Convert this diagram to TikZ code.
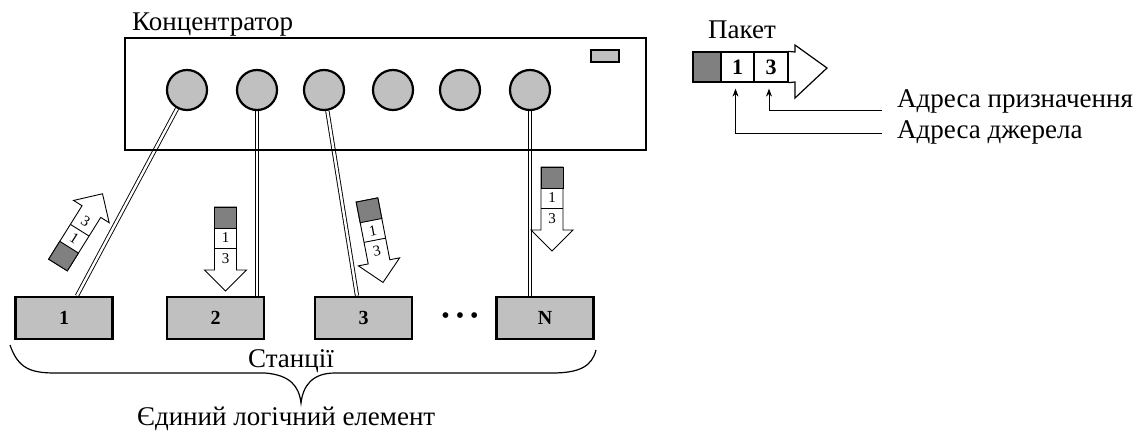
\documentclass[tikz,border=0pt]{standalone}
\usepackage{fontspec}
\setmainfont{Liberation Serif}
\newfontfamily\tnr{Liberation Serif}
\usetikzlibrary{calc,arrows.meta}
\definecolor{lgray}{HTML}{C0C0C0}
\definecolor{dgray}{HTML}{808080}
\pgfdeclarelayer{bg}
\pgfsetlayers{bg,main}
\tikzset{
  txt/.style={inner sep=0pt, font=\tnr\fontsize{27}{30}\selectfont},
  hubbox/.style={draw, line width=2.6pt, minimum width=521pt, minimum height=112pt, inner sep=0pt},
  port/.style={circle, draw, line width=2.2pt, fill=lgray, minimum size=40pt, inner sep=0pt},
  led/.style={draw, line width=2pt, fill=lgray, minimum width=28pt, minimum height=12pt, inner sep=0pt},
  stationbox/.style={draw, line width=2.6pt, fill=lgray, minimum width=97pt, minimum height=42pt, inner sep=0pt, font=\tnr\fontsize{20}{24}\selectfont\bfseries},
  cable/.style={double=white, double distance=2.4pt, line width=0.9pt},
  pktline/.style={line width=0.9pt},
  pktnum/.style={inner sep=0pt, font=\tnr\fontsize{15}{16}\selectfont},
  lcell/.style={draw, line width=1.2pt, minimum height=30pt, inner sep=0pt, font=\tnr\fontsize{22}{24}\selectfont\bfseries},
  callout/.style={line width=1pt, -{Stealth[length=8pt,width=6pt]}},
  bracepath/.style={line width=1.2pt},
}
% #1,#2 tail position, #3 rotation of arrow, #4 rotation of digits, #5 name prefix
\newcommand\pktarrow[5]{%
  \begin{scope}[shift={(#1,#2)},rotate=#3]
    \draw[pktline, fill=white] (-11,0) -- (11,0) -- (11,63) -- (21,63) -- (0,84) -- (-21,63) -- (-11,63) -- cycle;
    \draw[pktline, fill=dgray] (-11,0) rectangle (11,21);
    \draw[pktline] (-11,41) -- (11,41);
    \node[pktnum, rotate=#4] (#5a) at (0,31) {1};
    \node[pktnum, rotate=#4] (#5b) at (0,52) {3};
  \end{scope}}
\begin{document}
\begin{tikzpicture}[x=1pt,y=-1pt]
\useasboundingbox (0,0) rectangle (1146,434);

% hub
\node[hubbox] (hub) at (385.5,94) {};
\node[txt, anchor=base west] (hubl) at (132,30) {Концентратор};
\node[port] (c1) at (187,90) {};
\node[port] (c2) at (257,90) {};
\node[port] (c3) at (324,90) {};
\node[port] (c4) at (393,90) {};
\node[port] (c5) at (460,90) {};
\node[port] (c6) at (530,90) {};
\node[led] (led) at (605,56) {};

% stations
\node[stationbox] (s1) at (64,318) {1};
\node[stationbox] (s2) at (215.5,318) {2};
\node[stationbox] (s3) at (363.5,318) {3};
\node[stationbox] (sN) at (545,318) {N};
\node[font=\tnr\fontsize{24}{24}\selectfont, inner sep=0pt] (dots) at (460,318) {• • •};

% cables
\begin{pgfonlayer}{bg}
\draw[cable] (c1) -- ($(s1.north)+(13,0)$);
\draw[cable] (c2.south) -- (c2.south |- s2.north);
\draw[cable] (c3) -- ($(s3.north)+(-6.5,0)$);
\draw[cable] (c6.south) -- (c6.south |- sN.north);
\end{pgfonlayer}

% packets travelling
\pktarrow{58}{265}{148}{-32}{pa}
\pktarrow{225.5}{207}{0}{0}{pb}
\pktarrow{367}{200}{11}{11}{pc}
\pktarrow{552}{167}{0}{0}{pd}

% brace and labels
\draw[bracepath] (10,345) .. controls (18,368) and (30,373) .. (55,373) -- (265,373)
  .. controls (290,375) and (299,386) .. (301,403)
  .. controls (303,386) and (312,373) .. (335,373) -- (552,373)
  .. controls (580,373) and (592,366) .. (596,350);
\node[txt, anchor=base west] (stl) at (248,367) {Станції};
\node[txt, anchor=base west] (unl) at (137,425) {Єдиний логічний елемент};

% packet legend
\node[txt, anchor=base west] (pktl) at (708,38) {Пакет};
\node[lcell, fill=dgray, minimum width=28pt] (lsq) at (707,67) {};
\node[lcell, minimum width=33pt] (l1) at (737.5,67) {1};
\node[lcell, minimum width=34pt] (l3) at (771,67) {3};
\draw[line width=1.2pt] (l3.north east) -- (795,52) -- (795,45) -- (827,68) -- (795,98) -- (795,82) -- (l3.south east);
\node[txt, anchor=base west] (dst) at (897,107) {Адреса призначення};
\node[txt, anchor=base west] (src) at (897,138) {Адреса джерела};
\draw[callout] ($(dst.base west)+(-15,3)$) -| ($(l3.south)+(-2,6)$);
\draw[callout] ($(src.base west)+(-15,-5)$) -| ($(l1.south)+(-2,6)$);
\end{tikzpicture}
\end{document}
